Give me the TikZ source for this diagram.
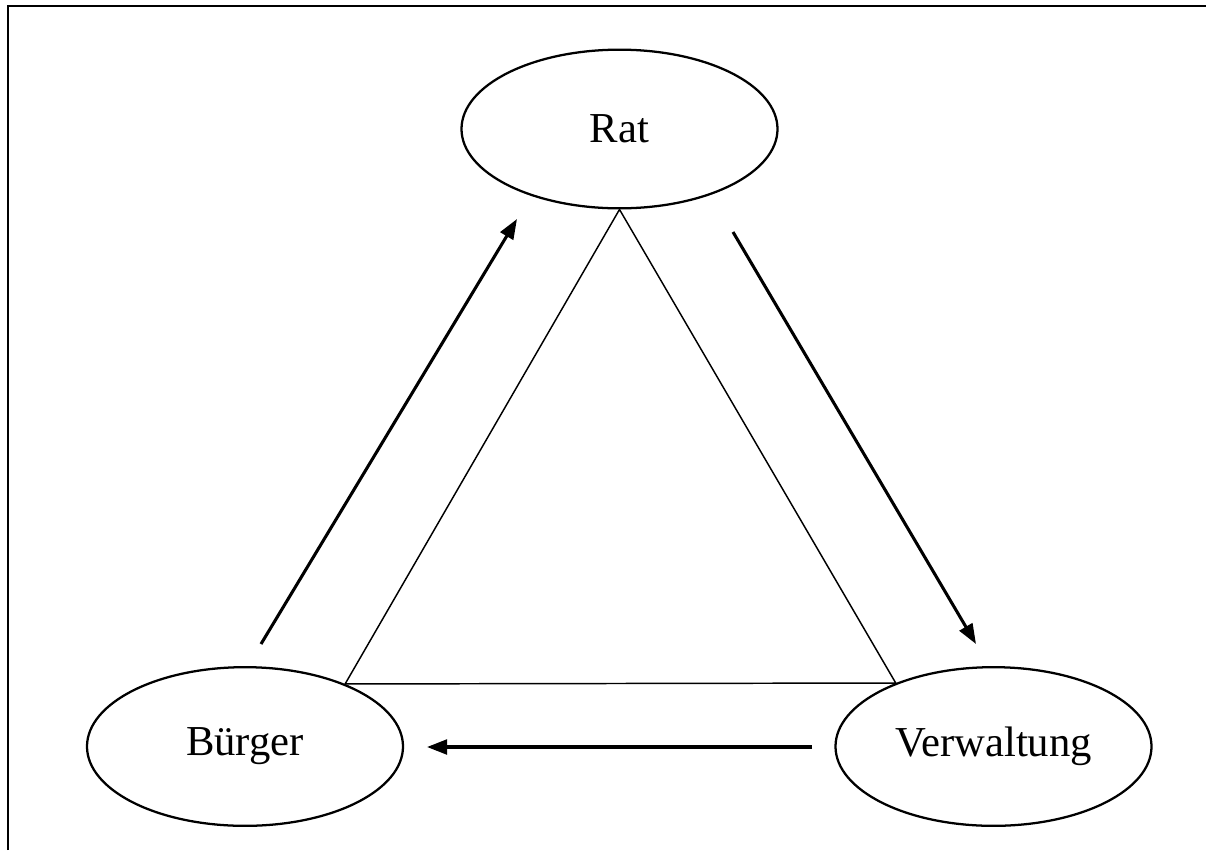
\documentclass[tikz,border=0pt]{standalone}
\usepackage{fontspec}
\setmainfont{Liberation Serif}
\usetikzlibrary{shapes.geometric,arrows.meta}
\begin{document}
\begin{tikzpicture}[x=0.75pt,y=-0.75pt,
  ent/.style={draw,ellipse,line width=1.7pt,inner sep=0pt,minimum width=237pt,minimum height=119pt,font=\fontsize{32}{38}\selectfont},
  tri/.style={line width=1.1pt},
  flow/.style={line width=2.3pt,-{Triangle[length=15pt,width=11pt]}},
  frame/.style={line width=1.8pt}]
\useasboundingbox (0,0) rectangle (1206,850);
\draw[frame] (8,850) -- (8,6) -- (1206,6);
\node[ent] (r) at (619.5,129) {Rat};
\node[ent] (b) at (245,746.5) {Bürger};
\node[ent] (v) at (993.5,746.5) {Verwaltung};
\draw[tri] (r.south) -- (b.32.5) -- (v.147.5) -- cycle;
\coordinate (a1s) at (261,644);
\coordinate (a1e) at (517,219);
\coordinate (a2s) at (733,232);
\coordinate (a2e) at (976,644);
\coordinate (a3s) at (812,747);
\coordinate (a3e) at (427,747);
\draw[flow] (a1s) -- (a1e);
\draw[flow] (a2s) -- (a2e);
\draw[flow] (a3s) -- (a3e);
\end{tikzpicture}
\end{document}
